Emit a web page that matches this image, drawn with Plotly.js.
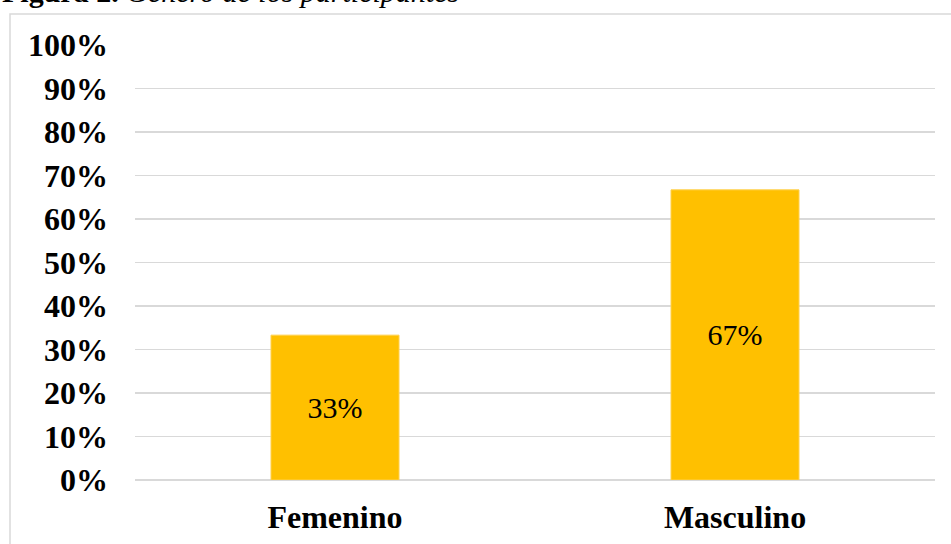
<!DOCTYPE html>
<html>
<head>
<meta charset="utf-8">
<script src="https://cdn.plot.ly/plotly-3.0.1.min.js"></script>
<style>html,body{margin:0;padding:0;background:#fff;}#chart{width:951px;height:544px;}</style>
</head>
<body>
<div id="chart"></div>
<script>
var categories = ["Femenino", "Masculino"];
var percentages = [33.3, 66.7];
var titleBold = "Figura 2.";
var titleItalic = "Género de los participantes";

var serif = "Liberation Serif, Times New Roman, serif";

var trace = {
  type: "bar",
  x: categories,
  y: percentages,
  marker: {color: "#FFC000", line: {color: "#FFD04D", width: 1}},
  texttemplate: "%{y:.0f}%",
  textposition: "inside",
  insidetextanchor: "middle",
  textangle: 0,
  textfont: {family: serif, size: 30, color: "#000"},
  hoverinfo: "none"
};

var layout = {
  width: 951,
  height: 544,
  margin: {l: 135, r: 16, t: 45, b: 64, pad: 0},
  paper_bgcolor: "#fff",
  plot_bgcolor: "#fff",
  bargap: 0.68,
  showlegend: false,
  xaxis: {
    type: "category",
    showgrid: false,
    showline: false,
    zeroline: false,
    ticks: "",
    ticklabelstandoff: 15,
    tickfont: {family: serif, size: 32, color: "#000", weight: "bold"}
  },
  yaxis: {
    range: [0, 100],
    dtick: 10,
    ticksuffix: "%",
    showgrid: true,
    gridcolor: "#d9d9d9",
    gridwidth: 1.5,
    zeroline: true,
    zerolinecolor: "#d9d9d9",
    zerolinewidth: 2,
    showline: false,
    ticks: "",
    ticklabelstandoff: 26,
    tickfont: {family: serif, size: 32, color: "#000", weight: "bold"},
    fixedrange: true
  },
  shapes: [{
    type: "rect", xref: "paper", yref: "paper",
    x0: -0.15625, x1: 1.05, y0: -0.3, y1: 1 + 31/435,
    line: {color: "#d9d9d9", width: 1.5},
    fillcolor: "rgba(0,0,0,0)",
    layer: "below"
  }],
  annotations: [{
    xref: "paper", yref: "paper",
    x: -135/800, y: (480 - 10)/435,
    xanchor: "left", yanchor: "bottom",
    showarrow: false,
    align: "left",
    text: "<b>" + titleBold + "</b> <i>" + titleItalic + "</i>",
    font: {family: serif, size: 30, color: "#000"}
  }]
};

Plotly.newPlot("chart", [trace], layout, {staticPlot: true, displayModeBar: false});
</script>
</body>
</html>
